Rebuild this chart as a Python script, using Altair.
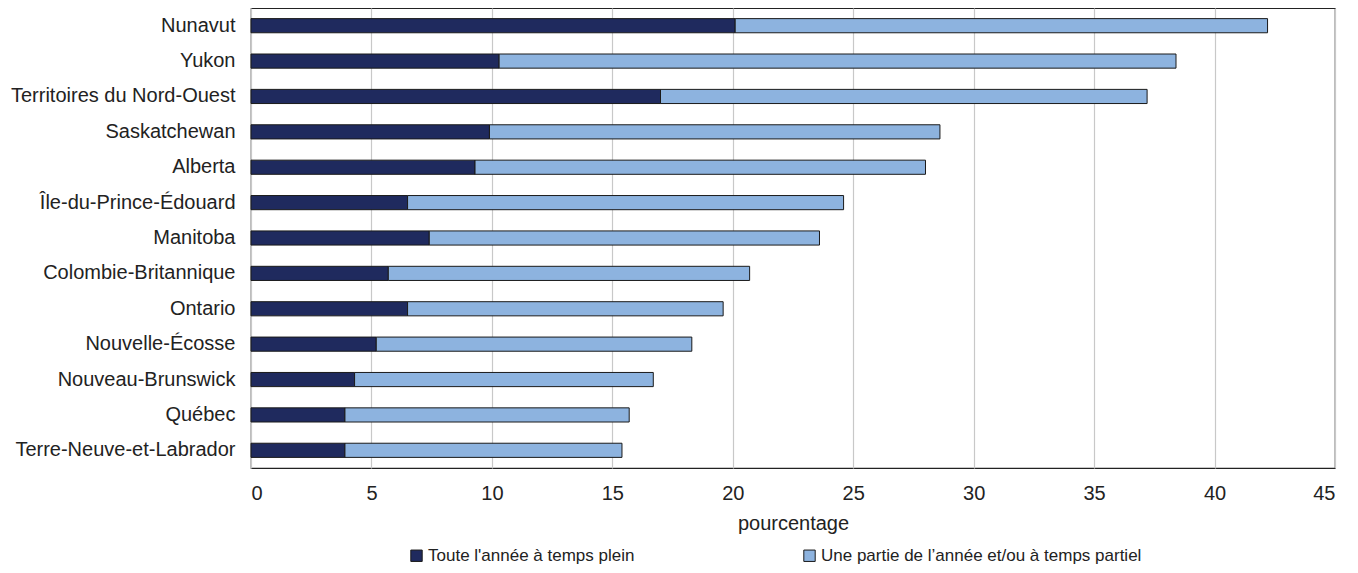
import altair as alt
import pandas as pd

regions = ["Nunavut", "Yukon", "Territoires du Nord-Ouest", "Saskatchewan", "Alberta",
           "Île-du-Prince-Édouard", "Manitoba", "Colombie-Britannique", "Ontario",
           "Nouvelle-Écosse", "Nouveau-Brunswick", "Québec", "Terre-Neuve-et-Labrador"]
full_year = [20.1, 10.3, 17.0, 9.9, 9.3, 6.5, 7.4, 5.7, 6.5, 5.2, 4.3, 3.9, 3.9]
part_year = [22.1, 28.1, 20.2, 18.7, 18.7, 18.1, 16.2, 15.0, 13.1, 13.1, 12.4, 11.8, 11.5]
series = ["Toute l'année à temps plein", "Une partie de l\u2019année et/ou à temps partiel"]
colors = ["#1F2A5E", "#8DB3DF"]

rows = []
for r, a, b in zip(regions, full_year, part_year):
    rows.append({"region": r, "serie": series[0], "valeur": a, "ordre": 0})
    rows.append({"region": r, "serie": series[1], "valeur": b, "ordre": 1})
df = pd.DataFrame(rows)

FONT = "Liberation Sans"
TXT = "#222222"

chart = alt.Chart(df).mark_bar(stroke="#1a1a1a", strokeWidth=1).encode(
    y=alt.Y("region:N", sort=regions, title=None,
            scale=alt.Scale(paddingInner=0.6, paddingOuter=0.3),
            axis=alt.Axis(ticks=False, labelPadding=16, labelFontSize=20, labelColor=TXT,
                          labelFont=FONT, domain=False, grid=False, labelLimit=400)),
    x=alt.X("valeur:Q", title="pourcentage",
            scale=alt.Scale(domain=[0, 45], nice=False),
            axis=alt.Axis(values=list(range(0, 50, 5)), ticks=False, labelPadding=15,
                          labelFontSize=20, labelColor=TXT, labelFont=FONT,
                          titleFont=FONT, titleFontSize=20, titleFontWeight="normal",
                          titleColor=TXT, titlePadding=10, domain=False,
                          grid=True, gridColor="#c8c8c8", gridWidth=1.2)),
    color=alt.Color("serie:N", sort=series,
                    scale=alt.Scale(domain=series, range=colors),
                    legend=alt.Legend(title=None, orient="none", legendX=157, legendY=539,
                                      direction="horizontal", columns=2, columnPadding=166,
                                      symbolType="square", symbolSize=130,
                                      symbolStrokeColor="#1a1a1a", symbolStrokeWidth=1,
                                      labelFont=FONT, labelFontSize=17, labelColor=TXT,
                                      labelLimit=500, labelOffset=3)),
    order=alt.Order("ordre:Q"),
).properties(
    width=1084, height=460,
    padding={"left": 2, "top": 0, "right": 10, "bottom": 0},
).configure_view(
    stroke="#222", strokeWidth=1.2
).configure_axis(
    gridOpacity=1
)

chart.save("out.html", embed_options={"renderer": "svg", "actions": False})
